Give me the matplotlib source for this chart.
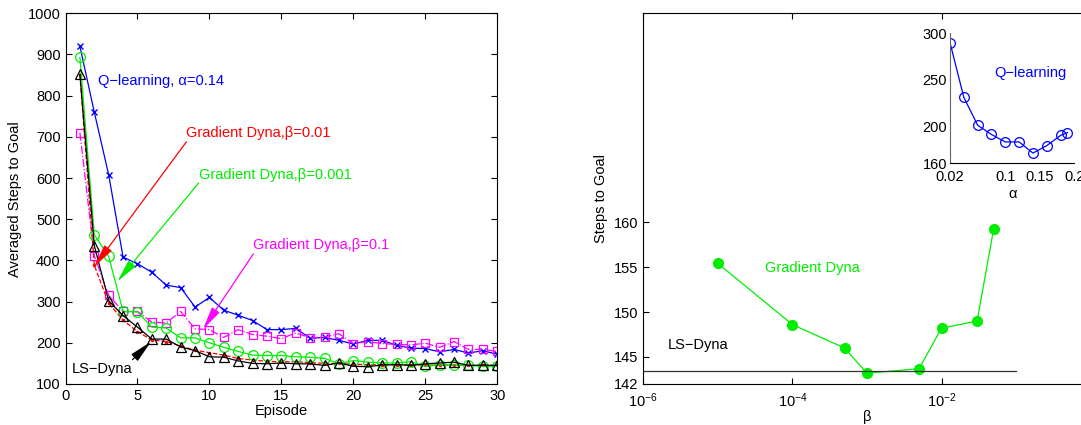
import numpy as np
import matplotlib
matplotlib.use("Agg")
import matplotlib.pyplot as plt

plt.rcParams["font.family"] = ["Liberation Sans", "DejaVu Sans"]
plt.rcParams["mathtext.fontset"] = "custom"
plt.rcParams["mathtext.rm"] = "Liberation Sans"
plt.rcParams["mathtext.it"] = "Liberation Sans"

# left panel: steps per episode
episodes = np.arange(1, 31)
q_learning = [920, 760, 608, 408, 392, 371, 340, 334, 287, 310, 279, 267, 254, 232, 232,
              235, 211, 213, 206, 197, 206, 206, 194, 187, 186, 178, 184, 175, 181, 172]
gd_01 = [710, 411, 315, 276, 276, 250, 248, 276, 234, 232, 213, 232, 220, 216, 210,
         224, 212, 214, 222, 198, 203, 198, 196, 195, 199, 189, 203, 184, 184, 179]
gd_001 = [893, 462, 410, 276, 275, 238, 236, 212, 212, 200, 189, 179, 170, 169, 169,
          166, 165, 162, 149, 157, 153, 151, 151, 154, 143, 146, 146, 145, 143, 143]
gd_0_01 = [850, 388, 296, 255, 227, 207, 203, 192, 182, 176, 170, 162, 158, 155, 154,
           154, 152, 150, 150, 148, 147, 147, 147, 147, 146, 146, 146, 145, 145, 145]
ls_dyna = [852, 436, 302, 266, 238, 209, 209, 190, 181, 166, 165, 156, 150, 149, 151,
           149, 149, 145, 151, 143, 142, 146, 147, 145, 149, 151, 153, 145, 146, 145]

# right panel: steps vs beta
betas = [1e-5, 1e-4, 5e-4, 1e-3, 5e-3, 1e-2, 3e-2, 5e-2]
gd_steps = [155.4, 148.6, 146.0, 143.2, 143.7, 148.2, 149.0, 159.2]
ls_dyna_level = 143.4
ls_range = [1e-6, 1e-1]

# inset: Q-learning vs alpha
alphas = [0.02, 0.04, 0.06, 0.08, 0.10, 0.12, 0.14, 0.16, 0.18, 0.19]
q_steps = [290, 231, 201, 191, 183, 183, 171, 179, 190, 193]

BLUE, RED, GREEN, MAG = "#0000ff", "#ff0000", "#00ee00", "#ff00ff"
FS = 10.5

fig = plt.figure(figsize=(10.81, 4.25), dpi=100)

# ---------------- left panel ----------------
ax = fig.add_axes([0.0606, 0.0965, 0.3994, 0.8722])
ax.plot(episodes, q_learning, color=BLUE, marker="x", ms=4.5, mew=1, lw=0.9)
ax.plot(episodes, gd_01, color=MAG, ls="-.", marker="s", ms=5.5, mfc="none", mew=0.9, lw=0.9)
ax.plot(episodes, gd_0_01, color=RED, ls="--", marker=".", ms=3, lw=0.9)
ax.plot(episodes, gd_001, color=GREEN, marker="o", ms=7, mfc="none", mew=0.9, lw=0.9)
ax.plot(episodes, ls_dyna, color="black", marker="^", ms=6.5, mfc="none", mew=0.9, lw=0.9)

ax.set_xlim(0, 30)
ax.set_ylim(100, 1000)
ax.set_xticks(range(0, 31, 5))
ax.set_yticks(range(100, 1001, 100))
ax.tick_params(direction="in", top=True, right=True, length=4, labelsize=FS)
ax.set_xlabel("Episode", fontsize=FS, labelpad=1)
ax.set_ylabel("Averaged Steps to Goal", fontsize=FS)

ax.text(2.25, 836, "Q\u2212learning, \u03b1=0.14", color=BLUE, fontsize=FS, va="center")

arrow = dict(arrowstyle="-|>,head_length=0.7,head_width=0.14", lw=0.9, mutation_scale=20,
             shrinkA=0, shrinkB=0)
notes = [
    ("Gradient Dyna,\u03b2=0.01", RED, (8.4, 710), (8.4, 688), (2.0, 385)),
    ("Gradient Dyna,\u03b2=0.001", GREEN, (9.25, 608), (9.25, 588), (3.6, 349)),
    ("Gradient Dyna,\u03b2=0.1", MAG, (13.05, 438), (13.05, 416), (9.55, 233)),
]
for label, col, tpos, start, tip in notes:
    ax.text(tpos[0], tpos[1], label, color=col, fontsize=FS, va="center")
    ax.annotate("", xy=tip, xytext=start, arrowprops=dict(arrow, color=col))

ax.text(0.4, 137, "LS\u2212Dyna", color="black", fontsize=FS, va="center")
ax.annotate("", xy=(5.95, 203), xytext=(4.65, 159), arrowprops=dict(arrow, color="black"))

# ---------------- right panel ----------------
ax2 = fig.add_axes([0.5951, 0.0965, 0.4138, 0.8722])
ax2.plot(betas, gd_steps, color=GREEN, marker="o", ms=7, lw=0.9)
ax2.plot(ls_range, [ls_dyna_level, ls_dyna_level], color="#333333", lw=0.9)
ax2.set_xscale("log")
ax2.set_xlim(1e-6, 1)
ax2.set_ylim(142, 183.2)
ax2.set_xticks([1e-6, 1e-4, 1e-2])
ax2.set_xticklabels(["$10^{-6}$", "$10^{-4}$", "$10^{-2}$"])
ax2.xaxis.set_minor_locator(matplotlib.ticker.NullLocator())
ax2.set_yticks([142, 145, 150, 155, 160])
ax2.tick_params(direction="in", top=True, right=True, length=4, labelsize=FS)
ax2.tick_params(axis="x", pad=5)
ax2.set_xlabel("\u03b2", fontsize=FS, labelpad=0)
ax2.set_ylabel("Steps to Goal", fontsize=FS)
ax2.text(2.1e-6, 146.35, "LS\u2212Dyna", color="black", fontsize=FS, va="center")
ax2.text(4.3e-5, 154.9, "Gradient Dyna", color=GREEN, fontsize=FS, va="center")

# ---------------- inset ----------------
ins = fig.add_axes([0.8788, 0.6158, 0.1151, 0.3059])
ins.patch.set_alpha(0)
ins.plot(alphas, q_steps, color=BLUE, marker="o", ms=7, mfc="none", mew=0.9, lw=0.9)
ins.set_xlim(0.02, 0.2)
ins.set_ylim(160, 300)
ins.set_xticks([0.02, 0.1, 0.15, 0.2])
ins.set_xticklabels(["0.02", "0.1", "0.15", "0.2"])
ins.set_yticks([160, 200, 250, 300])
ins.spines["top"].set_visible(False)
ins.spines["right"].set_visible(False)
ins.spines["left"].set_color("#666666")
ins.tick_params(direction="in", length=0, labelsize=FS, pad=2)
ins.tick_params(axis="x", pad=5)
ins.set_xlabel("\u03b1", fontsize=FS, labelpad=2)
ins.text(0.0845, 257, "Q\u2212learning", color=BLUE, fontsize=FS, va="center")

fig.savefig("out.png", dpi=100)
